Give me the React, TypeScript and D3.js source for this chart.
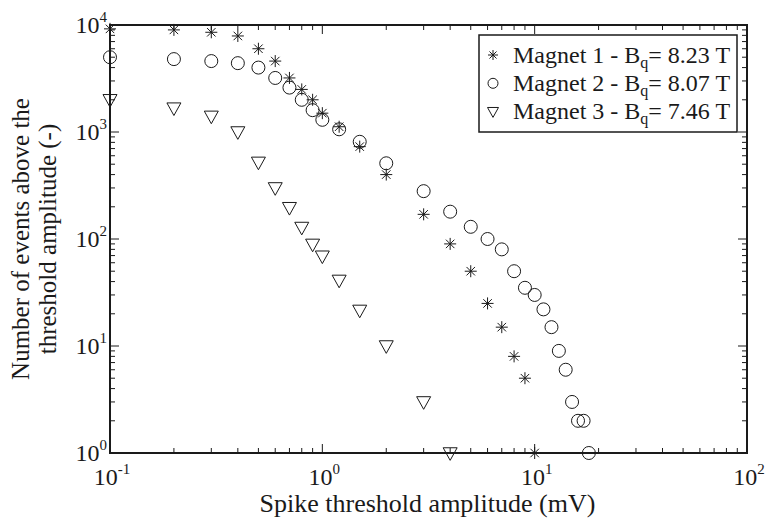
import React from "react";
import * as d3 from "d3";

const thresholds1 = [0.1, 0.2, 0.3, 0.4, 0.5, 0.6, 0.7, 0.8, 0.9, 1.0, 1.2, 1.5, 2, 3, 4, 5, 6, 7, 8, 9, 10];
const magnet1 = [9200, 9000, 8550, 7900, 6000, 4600, 3200, 2500, 2000, 1500, 1120, 730, 400, 170, 90, 50, 25, 15, 8, 5, 1];

const thresholds2 = [0.1, 0.2, 0.3, 0.4, 0.5, 0.6, 0.7, 0.8, 0.9, 1.0, 1.2, 1.5, 2, 3, 4, 5, 6, 7, 8, 9, 10, 11, 12, 13, 14, 15, 16, 17, 18];
const magnet2 = [5000, 4800, 4600, 4400, 4000, 3200, 2600, 2000, 1600, 1300, 1060, 810, 510, 280, 180, 130, 100, 80, 50, 35, 30, 22, 15, 9, 6, 3, 2, 2, 1];

const thresholds3 = [0.1, 0.2, 0.3, 0.4, 0.5, 0.6, 0.7, 0.8, 0.9, 1.0, 1.2, 1.5, 2, 3, 4];
const magnet3 = [2000, 1670, 1400, 1000, 520, 300, 196, 128, 89, 69, 41, 21.5, 10, 3, 1];

const xTickExps = [-1, 0, 1, 2];
const yTickExps = [0, 1, 2, 3, 4];
const legendLabels = ["Magnet 1 - B", "Magnet 2 - B", "Magnet 3 - B"];
const legendValues = ["= 8.23 T", "= 8.07 T", "= 7.46 T"];

const W = 765, H = 522;
const L = 110, R = 747, T = 25, B = 453;
const FONT = "'Liberation Serif', 'Times New Roman', serif";
const INK = "#1a1a1a";

function Star({ x, y, s = 6 }: { x: number; y: number; s?: number }) {
  const d = s * 0.7071;
  return (
    <g stroke={INK} strokeWidth={1}>
      <line x1={x - s} y1={y} x2={x + s} y2={y} />
      <line x1={x} y1={y - s} x2={x} y2={y + s} />
      <line x1={x - d} y1={y - d} x2={x + d} y2={y + d} />
      <line x1={x - d} y1={y + d} x2={x + d} y2={y - d} />
    </g>
  );
}
function Circ({ x, y, r = 6.5 }: { x: number; y: number; r?: number }) {
  return <circle cx={x} cy={y} r={r} fill="none" stroke={INK} strokeWidth={1} />;
}
function Tri({ x, y, s = 7 }: { x: number; y: number; s?: number }) {
  return (
    <path
      d={`M${x - s},${y - s * 0.75}L${x + s},${y - s * 0.75}L${x},${y + s * 1.05}Z`}
      fill="none"
      stroke={INK}
      strokeWidth={1}
    />
  );
}

export default function App() {
  const x = d3.scaleLog().domain([0.1, 100]).range([L, R]);
  const y = d3.scaleLog().domain([1, 10000]).range([B, T]);

  const xMinor: number[] = [];
  for (let e = -1; e < 2; e++) for (let k = 2; k <= 9; k++) xMinor.push(k * Math.pow(10, e));
  const yMinor: number[] = [];
  for (let e = 0; e < 4; e++) for (let k = 2; k <= 9; k++) yMinor.push(k * Math.pow(10, e));

  const major = 9, minor = 5;

  return (
    <svg width={W} height={H} style={{ position: "absolute", left: 0, top: 0, background: "#fff" }}>
      <rect x={0} y={0} width={W} height={H} fill="#fff" />
      <g stroke={INK} strokeWidth={1}>
        {xMinor.map((v, i) => (
          <g key={"xm" + i}>
            <line x1={x(v)} x2={x(v)} y1={B} y2={B - minor} />
            <line x1={x(v)} x2={x(v)} y1={T} y2={T + minor} />
          </g>
        ))}
        {yMinor.map((v, i) => (
          <g key={"ym" + i}>
            <line x1={L} x2={L + minor} y1={y(v)} y2={y(v)} />
            <line x1={R} x2={R - minor} y1={y(v)} y2={y(v)} />
          </g>
        ))}
        {xTickExps.map((e) => (
          <g key={"xM" + e}>
            <line x1={x(Math.pow(10, e))} x2={x(Math.pow(10, e))} y1={B} y2={B - major} />
            <line x1={x(Math.pow(10, e))} x2={x(Math.pow(10, e))} y1={T} y2={T + major} />
          </g>
        ))}
        {yTickExps.map((e) => (
          <g key={"yM" + e}>
            <line x1={L} x2={L + major} y1={y(Math.pow(10, e))} y2={y(Math.pow(10, e))} />
            <line x1={R} x2={R - major} y1={y(Math.pow(10, e))} y2={y(Math.pow(10, e))} />
          </g>
        ))}
      </g>
      <rect x={L} y={T} width={R - L} height={B - T} fill="none" stroke={INK} strokeWidth={2} />

      <g fontFamily={FONT} fill={INK}>
        {xTickExps.map((e) => (
          <text key={"xl" + e} x={x(Math.pow(10, e)) + 2} y={485} fontSize={24} textAnchor="middle">
            <tspan>10</tspan>
            <tspan dy={-11} fontSize={15}>{String(e)}</tspan>
          </text>
        ))}
        {yTickExps.map((e) => (
          <text key={"yl" + e} x={L - 3} y={y(Math.pow(10, e)) + 8} fontSize={24} textAnchor="end">
            <tspan>10</tspan>
            <tspan dy={-11} fontSize={15}>{String(e)}</tspan>
          </text>
        ))}
        <text x={(L + R) / 2 - 1} y={512} fontSize={26} textAnchor="middle">
          Spike threshold amplitude (mV)
        </text>
        <text transform={`translate(29,${(T + B) / 2}) rotate(-90)`} fontSize={25} textAnchor="middle">
          Number of events above the
        </text>
        <text transform={`translate(56,${(T + B) / 2}) rotate(-90)`} fontSize={25} textAnchor="middle">
          threshold amplitude (-)
        </text>
      </g>

      <g>
        {thresholds3.map((t, i) => (
          <Tri key={"m3" + i} x={x(t)} y={y(magnet3[i])} />
        ))}
        {thresholds2.map((t, i) => (
          <Circ key={"m2" + i} x={x(t)} y={y(magnet2[i])} />
        ))}
        {thresholds1.map((t, i) => (
          <Star key={"m1" + i} x={x(t)} y={y(magnet1[i])} />
        ))}
      </g>

      <g>
        <rect x={479} y={35} width={258} height={97} fill="#fff" stroke={INK} strokeWidth={1.5} />
        {legendLabels.map((lab, i) => {
          const cy = 55 + i * 28.3;
          return (
            <g key={"lg" + i}>
              {i === 0 && <Star x={493} y={cy} s={5} />}
              {i === 1 && <Circ x={493} y={cy} r={5} />}
              {i === 2 && <Tri x={493} y={cy} s={5.5} />}
              <text x={513} y={cy + 7.5} fontFamily={FONT} fontSize={24} fill={INK}>
                <tspan>{lab}</tspan>
                <tspan dy={5} fontSize={16}>q</tspan>
                <tspan dy={-5}>{legendValues[i]}</tspan>
              </text>
            </g>
          );
        })}
      </g>
    </svg>
  );
}
